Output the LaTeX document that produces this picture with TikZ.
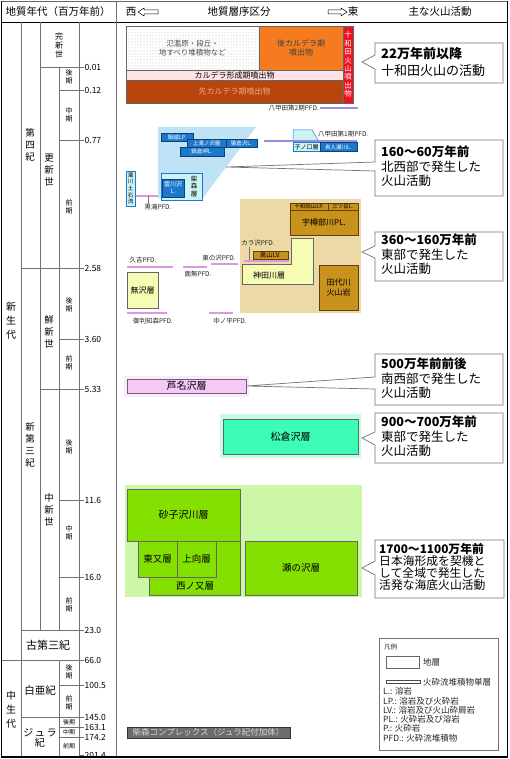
\documentclass[tikz,border=0pt]{standalone}
\usepackage{fontspec}
\setmainfont{Noto Sans CJK JP}
\usetikzlibrary{patterns}

\definecolor{gridgray}{HTML}{707070}
\definecolor{postcal}{HTML}{F47B20}
\definecolor{towadared}{HTML}{EE1122}
\definecolor{calpink}{HTML}{FDE3E6}
\definecolor{precal}{HTML}{B8450E}
\definecolor{precaltext}{HTML}{F5A878}
\definecolor{nwblue}{HTML}{BFE2F6}
\definecolor{lavablue}{HTML}{1C78CC}
\definecolor{paleteal}{HTML}{CCF4F4}
\definecolor{eastbg}{HTML}{EDD9A6}
\definecolor{eastgold}{HTML}{C8921C}
\definecolor{paleyellow}{HTML}{F6FCB4}
\definecolor{pfdpink}{HTML}{DE96DE}
\definecolor{pfdedge}{HTML}{A560A5}
\definecolor{hkpurple}{HTML}{9A8CE0}
\definecolor{hkedge}{HTML}{6A5CB0}
\definecolor{ashipink}{HTML}{F6C8F8}
\definecolor{ashihalo}{HTML}{FCE8FC}
\definecolor{mint}{HTML}{3CFCB6}
\definecolor{minthalo}{HTML}{C4FDE6}
\definecolor{greenbg}{HTML}{CCF7A6}
\definecolor{greenunit}{HTML}{84E000}
\definecolor{complexgray}{HTML}{6C6C6C}

\tikzset{
  grid/.style={draw=gridgray, line width=0.5pt},
  unit/.style={draw=black!60, line width=0.5pt, inner sep=0pt, align=center},
  lava/.style={unit, fill=lavablue, draw=lavablue!55!black, text=white, font=\fontsize{5.5}{6}\selectfont},
  gold/.style={unit, fill=eastgold, draw=eastgold!45!black},
  tag/.style={inner sep=0pt, font=\fontsize{6.5}{7}\selectfont, text=black!85},
  pfdline/.style={draw=pfdedge, double=pfdpink, double distance=1.4pt, line width=0.45pt},
  hkline/.style={draw=hkedge, double=hkpurple, double distance=1.4pt, line width=0.45pt},
  vtext/.style={align=center, inner sep=0pt, font=\fontsize{9.5}{12}\selectfont},
  ptext/.style={align=center, inner sep=0pt, font=\fontsize{7}{8.3}\selectfont},
  age/.style={anchor=west, inner sep=0pt, font=\fontsize{8.5}{9}\selectfont},
  callout/.style={draw=black!55, line width=0.7pt, fill=white, line join=miter},
  note/.style={anchor=north west, align=left, inner sep=0pt, font=\fontsize{12.5}{14.5}\selectfont},
  head/.style={inner sep=0pt, font=\fontsize{10.5}{11}\selectfont}
}

\begin{document}
\begin{tikzpicture}[x=1pt,y=-1pt,line cap=butt]
  \useasboundingbox (0,0) rectangle (510,759);
  \fill[white] (0,0) rectangle (510,759);

  % header
  \node[head] (hdage) at (58,12) {地質年代（百万年前）};
  \node[head] (hdwest) at (131,12) {西};
  \draw[line width=0.5pt] (138,12) -- (144,8) -- (144,10) -- (158,10) -- (158,14) -- (144,14) -- (144,16) -- cycle;
  \node[head] (hdstrat) at (239,12) {地質層序区分};
  \draw[line width=0.5pt] (347,12) -- (341,8) -- (341,10) -- (328,10) -- (328,14) -- (341,14) -- (341,16) -- cycle;
  \node[head] (hdeast) at (353,12) {東};
  \node[head] (hdvolc) at (440,12) {主な火山活動};
  \draw[line width=0.6pt] (1,22) -- (508,22);

  % time scale columns
  \draw[grid] (21,22) -- (21,757);
  \draw[grid] (40,22) -- (40,630);
  \draw[grid] (59,67) -- (59,630);
  \draw[grid] (59,660) -- (59,757);
  \draw[grid] (79,22) -- (79,757);
  \draw[grid] (116,1) -- (116,757);
  \foreach \y/\xs/\t in {67/40/0.01, 90/59/0.12, 140/59/0.77, 268/21/2.58,
      339/59/3.60, 389/40/5.33, 500/59/11.6, 577/59/16.0, 630/21/23.0,
      660/2/66.0, 685/59/100.5, 717/21/145.0, 727/59/163.1, 737/59/174.2,
      755/79/201.4}{
    \draw[grid] (\xs,\y) -- (84,\y);
    \node[age] at (84.5,\y) {\t};
  }

  % era / period / epoch labels
  \node[vtext, font=\fontsize{10}{14}\selectfont] (cenozoic) at (11,321) {新\\生\\代};
  \node[vtext, font=\fontsize{10}{14}\selectfont] (mesozoic) at (11,710) {中\\生\\代};
  \node[vtext] (quat) at (30,145) {第\\四\\紀};
  \node[vtext] (neogene) at (30,445) {新\\第\\三\\紀};
  \node[vtext] (pleist) at (49,170) {更\\新\\世};
  \node[vtext] (plio) at (49,332) {鮮\\新\\世};
  \node[vtext] (mio) at (49,510) {中\\新\\世};
  \node[vtext, font=\fontsize{8}{9}\selectfont] (holo) at (59,45) {完\\新\\世};
  \foreach \y/\t in {77/後, 115/中, 207/前, 305/後, 363/前, 447/後, 533/中, 605/前, 672/後, 703/前}{
    \node[ptext] at (69,\y) {\t\\期};
  }
  \node[head, font=\fontsize{11}{12}\selectfont] (paleo) at (48,645) {古第三紀};
  \node[head] (cret) at (40,690) {白亜紀};
  \node[vtext, font=\fontsize{10}{10.5}\selectfont] (jura) at (40,738) {ジ\,ュ\,ラ\\紀};
  \foreach \y/\t in {722/後期, 732/中期, 746/前期}{
    \node[inner sep=0pt, font=\fontsize{6}{6}\selectfont] at (69,\y) {\t};
  }

  % Towada volcano
  \node[unit, minimum width=133, minimum height=44, preaction={fill=white},
    pattern=dots, pattern color=black!30, text=black!70, font=\fontsize{7.5}{9}\selectfont]
    (flood) at (192.5,48) {氾濫原・段丘・\\地すべり堆積物など};
  \node[unit, fill=postcal, minimum width=84, minimum height=44, text=black!75,
    font=\fontsize{8}{9.5}\selectfont] (postcal) at (301,48) {後カルデラ期\\噴出物};
  \node[unit, fill=towadared, minimum width=10, minimum height=77, text=white,
    font=\fontsize{7.5}{8.4}\selectfont] (towada) at (348,64.5) {十\\和\\田\\火\\山\\噴\\出\\物};
  \node[unit, fill=calpink, minimum width=217, minimum height=10,
    font=\fontsize{8}{8}\selectfont] (calform) at (234.5,75) {カルデラ形成期噴出物};
  \node[unit, fill=precal, minimum width=217, minimum height=23, text=precaltext,
    font=\fontsize{8}{8}\selectfont] (precal) at (234.5,91.5) {先カルデラ期噴出物};
  \draw[hkline] (320,108) coordinate (hk2) -- (358,108);
  \node[tag, left=1pt] (hk2lbl) at (hk2) {八甲田第2期PFD.};

  % north-western volcanism
  \fill[nwblue] (158,127) -- (256,127) -- (203,198) -- (158,198) -- cycle;
  \node[lava, minimum width=32, minimum height=8] (nabe) at (177,137) {鍋越LP.};
  \node[lava, minimum width=39, minimum height=8] (kamitaki) at (206.5,143) {上滝ノ沢層};
  \node[lava, minimum width=31, minimum height=8] (saru) at (241.5,143) {猿倉沢L.};
  \node[lava, minimum width=44, minimum height=9] (misaki) at (202,151.5) {鍋倉岬L.};
  \node[unit, fill=paleteal, draw=lavablue, minimum width=41, minimum height=27] (shiba) at (181.5,186.5) {};
  \node[lava, minimum width=22, minimum height=18, font=\fontsize{6}{7}\selectfont] (kumo) at (173,188) {雲川沢\\L.};
  \node[vtext, font=\fontsize{6.5}{7.5}\selectfont] (shibalbl) at (194,186.5) {柴\\森\\層};
  \node[unit, fill=paleteal, draw=lavablue, minimum width=9, minimum height=35,
    font=\fontsize{5.5}{6.6}\selectfont] (nigori) at (130.5,188.5) {濁\\川\\土\\石\\流};
  \draw[pfdline] (136,196) -- (158,196);
  \node[tag] (kurotaki) at (158,207) {黒滝PFD.};
  \draw[grid] (148,196) -- (kurotaki.north -| 148,0);

  \draw[unit, fill=paleteal, draw=lavablue] (293,140) -- (293,130) -- (312,130) -- (318,140);
  \draw[hkline] (264,141) -- (357,141);
  \node[tag, anchor=west] (hk1lbl) at (318,134) {八甲田第1期PFD.};
  \node[unit, fill=paleteal, draw=lavablue, minimum width=27, minimum height=9,
    font=\fontsize{6}{6}\selectfont] (nenoku) at (306.5,147) {子ノ口層};
  \node[lava, minimum width=37, minimum height=9] (oirase) at (338.5,147) {奥入瀬川L.};

  % eastern volcanism
  \fill[eastbg] (240,199) rectangle (361,313);
  \node[gold, minimum width=38, minimum height=7, font=\fontsize{5.5}{5.5}\selectfont] (towadayama) at (309,206.5) {十和田山LP.};
  \node[gold, minimum width=30, minimum height=7, font=\fontsize{5.5}{5.5}\selectfont] (mitsu) at (343,206.5) {三ツ岳L.};
  \node[gold, minimum width=68, minimum height=25, font=\fontsize{8}{8}\selectfont] (utarube) at (324,222.5) {宇樽部川PL.};
  \draw[unit, fill=paleyellow] (291,238) -- (313,238) -- (313,284) -- (242,284) -- (242,264) -- (291,264) -- cycle;
  \node[inner sep=0pt, font=\fontsize{8}{8}\selectfont] (kanda) at (269,275) {神田川層};
  \node[gold, minimum width=35, minimum height=8, font=\fontsize{6.5}{6.5}\selectfont] (takayama) at (270.5,255) {高山LV.};
  \draw[pfdline] (244,261) -- (289,261);
  \node[tag] (karasawa) at (258,243) {カラ沢PFD.};
  \draw[grid] (249,247) -- (249,260);
  \node[gold, minimum width=39, minimum height=45, font=\fontsize{8}{9.5}\selectfont] (tashiro) at (338.5,287.5) {田代川\\火山岩};

  % pyroclastic flows, west
  \draw[pfdline] (211,264) -- (238,264);
  \node[tag] (higashi) at (219,258) {東の沢PFD.};
  \draw[pfdline] (127,267) -- (173,267);
  \node[tag] (kuyoshi) at (143,260) {久吉PFD.};
  \draw[pfdline] (183,267) -- (207,267);
  \node[tag] (omonashi) at (198,274) {面無PFD.};
  \node[unit, fill=paleyellow, minimum width=31, minimum height=36, font=\fontsize{8}{8}\selectfont] (mukai) at (142.5,290) {無沢層};
  \draw[pfdline] (127,313) -- (167,313);
  \node[tag] (gohan) at (153,321) {御判知森PFD.};
  \draw[pfdline] (209,313) -- (233,313);
  \node[tag] (nakanotai) at (230,321) {中ノ平PFD.};

  % Pliocene and late Miocene
  \fill[ashihalo] (124,376) rectangle (249,397);
  \node[unit, fill=ashipink, minimum width=119, minimum height=14, font=\fontsize{10}{10}\selectfont] (ashina) at (186.5,386) {芦名沢層};
  \fill[minthalo] (220,414) rectangle (361,458);
  \node[unit, fill=mint, minimum width=135, minimum height=35, font=\fontsize{10}{10}\selectfont] (matsukura) at (290.5,436.5) {松倉沢層};

  % early - middle Miocene
  \fill[greenbg] (125,485) rectangle (362,597);
  \node[unit, fill=greenunit, minimum width=113, minimum height=52, font=\fontsize{10}{10}\selectfont] (sunako) at (183.5,515) {砂子沢川層};
  \draw[unit, fill=greenunit] (216,541) -- (240,541) -- (240,595) -- (149,595) -- (149,577) -- (216,577) -- cycle;
  \node[inner sep=0pt, font=\fontsize{9.5}{9.5}\selectfont] (nishino) at (195,586) {西ノ又層};
  \node[unit, fill=greenunit, minimum width=39, minimum height=36, font=\fontsize{9.5}{9.5}\selectfont] (higashimata) at (157.5,559) {東又層};
  \node[unit, fill=greenunit, minimum width=39, minimum height=36, font=\fontsize{9.5}{9.5}\selectfont] (kamimuki) at (196.5,559) {上向層};
  \node[unit, fill=greenunit, minimum width=112, minimum height=54, font=\fontsize{9.5}{9.5}\selectfont] (senosawa) at (301,568) {瀬の沢層};

  \node[unit, fill=complexgray, draw=black!80, minimum width=163, minimum height=11, text=black!15,
    font=\fontsize{8.5}{8.5}\selectfont] (complex) at (208.5,732.5) {柴森コンプレックス（ジュラ紀付加体）};

  % callouts
  \coordinate (tipA) at (362,62);
  \draw[callout] (375,55) -- (tipA) -- (375,69) -- (375,83) -- (503,83) -- (503,43) -- (375,43) -- cycle;
  \node[note, font=\fontsize{13}{17}\selectfont] (noteA) at (381,47) {\textbf{22万年前以降}\\十和田火山の活動};
  \coordinate (tipB) at (226,167);
  \draw[callout] (375,162) -- (tipB) -- (375,171) -- (375,196) -- (503,196) -- (503,140) -- (375,140) -- cycle;
  \node[note] (noteB) at (381,146) {\textbf{160〜60万年前}\\北西部で発生した\\火山活動};
  \coordinate (tipC) at (362,252);
  \draw[callout] (375,246) -- (tipC) -- (375,258) -- (375,281) -- (503,281) -- (503,232) -- (375,232) -- cycle;
  \node[note] (noteC) at (381,234) {\textbf{360〜160万年前}\\東部で発生した\\火山活動};
  \coordinate (tipD) at (ashina.east);
  \draw[callout] (375,377) -- (tipD) -- (375,389) -- (375,405) -- (503,405) -- (503,354) -- (375,354) -- cycle;
  \node[note] (noteD) at (381,358) {\textbf{500万年前前後}\\南西部で発生した\\火山活動};
  \coordinate (tipE) at (362,438);
  \draw[callout] (375,432) -- (tipE) -- (375,445) -- (375,463) -- (503,463) -- (503,413) -- (375,413) -- cycle;
  \node[note] (noteE) at (381,416) {\textbf{900〜700万年前}\\東部で発生した\\火山活動};
  \coordinate (tipF) at (362,568);
  \draw[callout] (375,561) -- (tipF) -- (375,575) -- (375,598) -- (504,598) -- (504,540) -- (375,540) -- cycle;
  \node[note, font=\fontsize{11.8}{12.2}\selectfont] (noteF) at (379,543) {\textbf{1700〜1100万年前}\\日本海形成を契機と\\して全域で発生した\\活発な海底火山活動};

  % legend
  \draw[draw=black!55, line width=0.6pt] (379,638) rectangle (498,750);
  \node[tag, anchor=west, font=\fontsize{6.5}{6.5}\selectfont] (legtitle) at (384,647) {凡例};
  \draw[draw=black!60, line width=0.5pt] (386,656) rectangle (419,668);
  \node[tag, anchor=west, font=\fontsize{8.5}{8.5}\selectfont] (legunit) at (423,662) {地層};
  \draw[draw=black!70, fill=white, line width=0.6pt] (386,680.5) rectangle (420,683.5);
  \node[tag, anchor=west, font=\fontsize{8.5}{8.5}\selectfont] (legpfd) at (423,682) {火砕流堆積物単層};
  \foreach \y/\t in {691/L.: 溶岩, 701/LP.: 溶岩及び火砕岩, 710/LV.: 溶岩及び火山砕屑岩,
      719/PL.: 火砕岩及び溶岩, 728/P.: 火砕岩, 738/PFD.: 火砕流堆積物}{
    \node[tag, anchor=west, font=\fontsize{8.5}{8.5}\selectfont] at (383,\y) {\t};
  }

  % frame
  \draw[line width=0.5pt, draw=black!60] (1,1) -- (508,1);
  \draw[line width=1.4pt] (1.5,1) -- (1.5,757) -- (507.5,757) -- (507.5,1);
\end{tikzpicture}
\end{document}
